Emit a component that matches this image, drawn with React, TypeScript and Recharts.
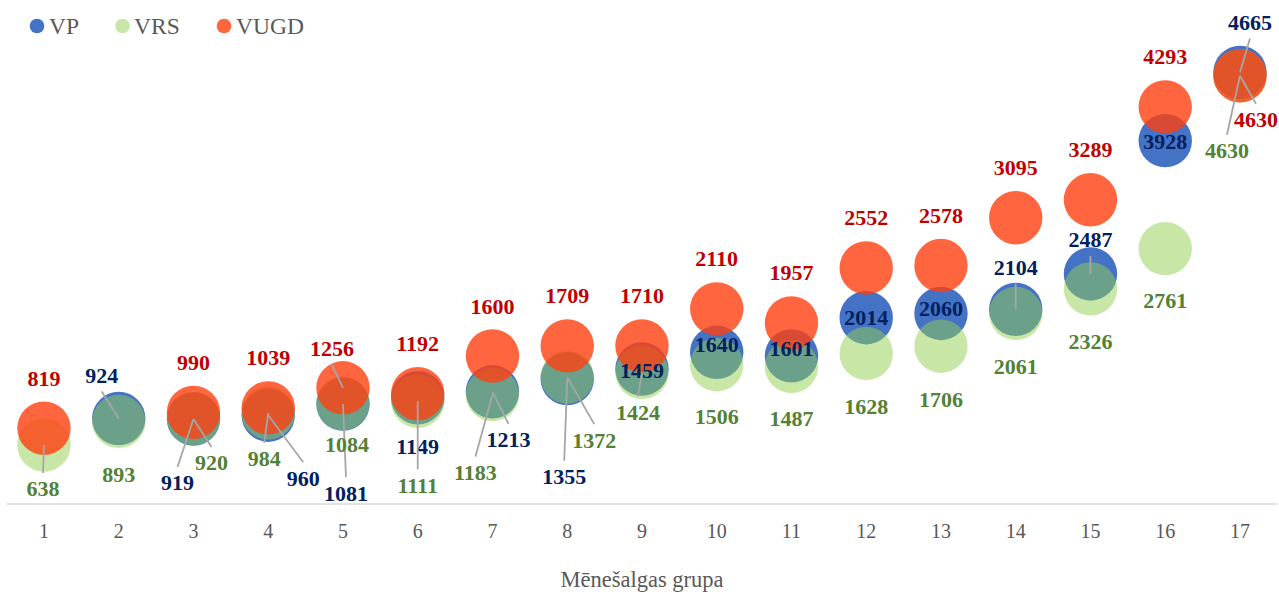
import React from 'react';
import { ScatterChart, Scatter, XAxis, YAxis } from 'recharts';

// Mēnešalgas grupas 1..17
const groups = [1, 2, 3, 4, 5, 6, 7, 8, 9, 10, 11, 12, 13, 14, 15, 16, 17];

const vpValues = [null, 924, 919, 960, 1081, 1149, 1213, 1355, 1459, 1640, 1601, 2014, 2060, 2104, 2487, 3928, 4665];
const vrsValues = [638, 893, 920, 984, 1084, 1111, 1183, 1372, 1424, 1506, 1487, 1628, 1706, 2061, 2326, 2761, 4630];
const vugdValues = [819, null, 990, 1039, 1256, 1192, 1600, 1709, 1710, 2110, 1957, 2552, 2578, 3095, 3289, 4293, 4630];

// label offset from bubble centre [dx, dy, leader line]
type LabelPos = [number, number, boolean];
const vpLabelPos: LabelPos[] = [
  [0, 0, false], [-17, -43, true], [-16, 64, true], [35, 63, true], [3, 89, true], [0, 49, false],
  [16, 48, true], [-3, 98, true], [0, 1, false], [0, -8, false], [0, -7, false], [0, 0, false],
  [0, -5, false], [0, -42, true], [0, -34, true], [0, 1, false], [10, -50, true],
];
const vrsLabelPos: LabelPos[] = [
  [-1, 44, true], [0, 53, false], [18, 44, true], [-4, 46, true], [4, 41, false], [0, 84, true],
  [-17, 78, true], [27, 63, true], [-4, 40, true], [0, 52, false], [0, 52, false], [0, 53, false],
  [0, 53, false], [0, 53, false], [0, 53, false], [0, 52, false], [-13, 75, true],
];
const vugdLabelPos: LabelPos[] = [
  [0, -50, false], [0, 0, false], [0, -50, false], [0, -50, false], [-11, -39, true], [0, -50, false],
  [0, -50, false], [0, -50, false], [0, -50, false], [0, -50, false], [0, -50, false], [0, -50, false],
  [0, -50, false], [0, -50, false], [0, -50, false], [0, -50, false], [16, 44, true],
];

const SERIF = '"Liberation Serif", "Times New Roman", serif';
const R = 26.7;

const series = [
  { name: 'VP', values: vpValues, fill: '#4472C4', opacity: 1, labelColor: '#002060', pos: vpLabelPos },
  { name: 'VRS', values: vrsValues, fill: '#92D050', opacity: 0.5, labelColor: '#538135', pos: vrsLabelPos },
  { name: 'VUGD', values: vugdValues, fill: '#FF4010', opacity: 0.8, labelColor: '#C00000', pos: vugdLabelPos },
];

const toPoints = (values: (number | null)[]) =>
  groups
    .map((g, i) => ({ x: g, y: values[i], i }))
    .filter((d) => d.y !== null);

const Bubble = (fill: string, opacity: number) => (props: any) => (
  <circle cx={props.cx} cy={props.cy} r={R} fill={fill} fillOpacity={opacity} />
);

const DataLabel = (s: typeof series[number]) => (props: any) => {
  const { cx, cy, payload } = props;
  const [dx, dy, leader] = s.pos[payload.i];
  const lx = cx + dx;
  const ly = cy + dy;
  const sign = cy > ly ? 1 : -1;
  return (
    <g>
      {leader && (
        <line x1={lx} y1={ly + sign * 16} x2={cx} y2={cy} stroke="#A6A6A6" strokeWidth={1.8} />
      )}
      <text x={lx} y={ly + 7.5} textAnchor="middle" fill={s.labelColor} fontSize={22} fontWeight="bold" fontFamily={SERIF}>
        {payload.y}
      </text>
    </g>
  );
};

const legendItems = [
  { name: 'VP', cx: 37, tx: 49 },
  { name: 'VRS', cx: 122.5, tx: 134 },
  { name: 'VUGD', cx: 224, tx: 236 },
];

export default function App() {
  return (
    <div style={{ position: 'absolute', left: 0, top: 0, width: 1279, height: 595, background: '#fff' }}>
      <ScatterChart width={1279} height={595} margin={{ top: 41.5, right: 1.65, bottom: 0, left: 6.6 }}>
        <XAxis
          type="number"
          dataKey="x"
          domain={[0.5, 17.5]}
          ticks={groups}
          interval={0}
          tickLine={false}
          axisLine={{ stroke: '#D9D9D9', strokeWidth: 1.5 }}
          tick={{ fill: '#595959', fontSize: 20, fontFamily: SERIF }}
          tickMargin={14}
          height={91}
          label={{ value: 'Mēnešalgas grupa', position: 'insideBottom', offset: 8, fill: '#595959', fontSize: 22.5, fontFamily: SERIF }}
        />
        <YAxis type="number" dataKey="y" domain={[0, 5000]} hide />
        {series.map((s) => (
          <Scatter
            key={s.name}
            name={s.name}
            data={toPoints(s.values)}
            shape={Bubble(s.fill, s.opacity)}
            isAnimationActive={false}
          />
        ))}
        {series.map((s) => (
          <Scatter
            key={s.name + '-labels'}
            data={toPoints(s.values)}
            shape={DataLabel(s)}
            legendType="none"
            isAnimationActive={false}
          />
        ))}
      </ScatterChart>
      <svg width={330} height={50} style={{ position: 'absolute', left: 0, top: 0 }}>
        {series.map((s, k) => (
          <g key={s.name}>
            <circle cx={legendItems[k].cx} cy={26} r={7.3} fill={s.fill} fillOpacity={s.opacity} />
            <text x={legendItems[k].tx} y={34} fill="#595959" fontSize={23.5} fontFamily={SERIF}>
              {s.name}
            </text>
          </g>
        ))}
      </svg>
    </div>
  );
}
